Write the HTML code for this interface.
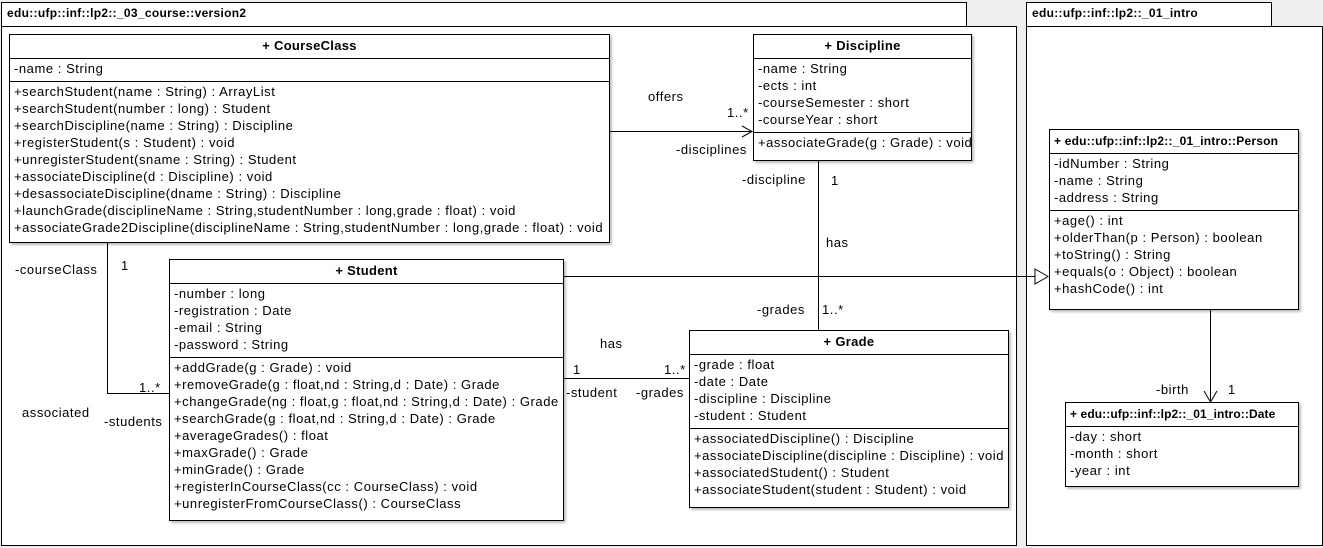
<!DOCTYPE html>
<html><head><meta charset="utf-8"><style>
body{margin:0;width:1323px;height:548px;background:#eeeeee;position:relative;overflow:hidden;font-family:"Liberation Sans",sans-serif;font-size:13px;letter-spacing:0.55px;color:#000}
.a{position:absolute}
.box{position:absolute;background:#fff;border:1px solid #000;box-shadow:2px 2px 2px rgba(0,0,0,0.25);box-sizing:border-box}
.h{font-weight:bold;text-align:center;height:24px;line-height:22px;border-bottom:1px solid #000;box-sizing:border-box;letter-spacing:0.3px}
.s{border-bottom:1px solid #000;padding:1px 4px 4px 4px;line-height:17px;white-space:nowrap}
.s:last-child{border-bottom:none}
.pk{position:absolute;background:#fff;border:1px solid #000;box-sizing:border-box}
.t{position:absolute;white-space:nowrap;line-height:14px}
</style></head><body>
<div class="pk" style="left:1px;top:2px;width:966px;height:25px;padding:3px 5px;font-weight:bold;font-size:12px;letter-spacing:0.3px">edu::ufp::inf::lp2::_03_course::version2</div>
<div class="pk" style="left:1px;top:26px;width:1016px;height:520px"></div>
<div class="pk" style="left:1026px;top:2px;width:246px;height:25px;padding:3px 5px;font-weight:bold;font-size:12px;letter-spacing:0.3px">edu::ufp::inf::lp2::_01_intro</div>
<div class="pk" style="left:1026px;top:26px;width:297px;height:520px"></div>

<svg class="a" style="left:0;top:0" width="1323" height="548">
<g stroke="#000" fill="none" stroke-width="1">
<path d="M609 131.5H752M742 126l10 5.5-10 5.5"/>
<path d="M818.5 160V330"/>
<path d="M563 276.5H1035"/>
<path d="M1035 269l13 7.5-13 7.5z" fill="#fff"/>
<path d="M107.5 242V393.5H169"/>
<path d="M563 378.5H689"/>
<path d="M1210.5 309V402M1204 391l6.5 11 6.5-11"/>
</g></svg>

<div class="box" style="left:9px;top:34px;width:601px;height:209px">
<div class="h">+ CourseClass</div>
<div class="s">-name : String</div>
<div class="s">+searchStudent(name : String) : ArrayList<br>+searchStudent(number : long) : Student<br>+searchDiscipline(name : String) : Discipline<br>+registerStudent(s : Student) : void<br>+unregisterStudent(sname : String) : Student<br>+associateDiscipline(d : Discipline) : void<br>+desassociateDiscipline(dname : String) : Discipline<br>+launchGrade(disciplineName : String,studentNumber : long,grade : float) : void<br>+associateGrade2Discipline(disciplineName : String,studentNumber : long,grade : float) : void</div>
</div>

<div class="box" style="left:753px;top:34px;width:219px;height:127px">
<div class="h">+ Discipline</div>
<div class="s">-name : String<br>-ects : int<br>-courseSemester : short<br>-courseYear : short</div>
<div class="s">+associateGrade(g : Grade) : void</div>
</div>

<div class="box" style="left:169px;top:259px;width:395px;height:262px">
<div class="h">+ Student</div>
<div class="s" style="padding-top:1px">-number : long<br>-registration : Date<br>-email : String<br>-password : String</div>
<div class="s">+addGrade(g : Grade) : void<br>+removeGrade(g : float,nd : String,d : Date) : Grade<br>+changeGrade(ng : float,g : float,nd : String,d : Date) : Grade<br>+searchGrade(g : float,nd : String,d : Date) : Grade<br>+averageGrades() : float<br>+maxGrade() : Grade<br>+minGrade() : Grade<br>+registerInCourseClass(cc : CourseClass) : void<br>+unregisterFromCourseClass() : CourseClass</div>
</div>

<div class="box" style="left:689px;top:330px;width:320px;height:178px">
<div class="h">+ Grade</div>
<div class="s">-grade : float<br>-date : Date<br>-discipline : Discipline<br>-student : Student</div>
<div class="s">+associatedDiscipline() : Discipline<br>+associateDiscipline(discipline : Discipline) : void<br>+associatedStudent() : Student<br>+associateStudent(student : Student) : void</div>
</div>

<div class="box" style="left:1049px;top:129px;width:250px;height:181px">
<div class="h" style="text-align:left;padding-left:4px;font-size:12px;letter-spacing:0.2px">+ edu::ufp::inf::lp2::_01_intro::Person</div>
<div class="s">-idNumber : String<br>-name : String<br>-address : String</div>
<div class="s">+age() : int<br>+olderThan(p : Person) : boolean<br>+toString() : String<br>+equals(o : Object) : boolean<br>+hashCode() : int</div>
</div>

<div class="box" style="left:1065px;top:402px;width:234px;height:85px">
<div class="h" style="text-align:left;padding-left:4px;font-size:12px;letter-spacing:0.1px">+ edu::ufp::inf::lp2::_01_intro::Date</div>
<div class="s">-day : short<br>-month : short<br>-year : int</div>
</div>

<div class="t" style="left:648px;top:90px">offers</div>
<div class="t" style="left:727px;top:106px">1..*</div>
<div class="t" style="left:676px;top:143px">-disciplines</div>
<div class="t" style="left:742px;top:173px">-discipline</div>
<div class="t" style="left:831px;top:174px">1</div>
<div class="t" style="left:826px;top:236px">has</div>
<div class="t" style="left:757px;top:303px">-grades</div>
<div class="t" style="left:822px;top:303px">1..*</div>
<div class="t" style="left:15px;top:263px">-courseClass</div>
<div class="t" style="left:121px;top:259px">1</div>
<div class="t" style="left:139px;top:381px">1..*</div>
<div class="t" style="left:22px;top:406px">associated</div>
<div class="t" style="left:104px;top:415px">-students</div>
<div class="t" style="left:600px;top:337px">has</div>
<div class="t" style="left:573px;top:363px">1</div>
<div class="t" style="left:664px;top:363px">1..*</div>
<div class="t" style="left:566px;top:386px">-student</div>
<div class="t" style="left:636px;top:386px">-grades</div>
<div class="t" style="left:1156px;top:383px">-birth</div>
<div class="t" style="left:1228px;top:383px">1</div>
</body></html>
